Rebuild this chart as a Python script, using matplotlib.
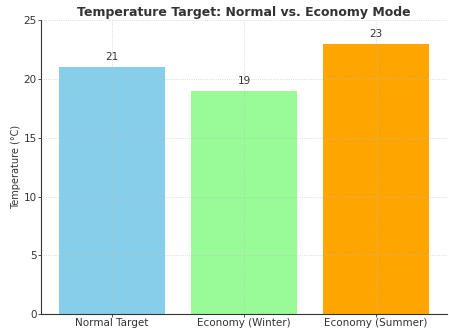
import matplotlib
matplotlib.use("Agg")
import matplotlib.pyplot as plt

categories = ["Normal Target", "Economy (Winter)", "Economy (Summer)"]
values = [21, 19, 23]
colors = ["skyblue", "palegreen", "orange"]
yticks = [0, 5, 10, 15, 20, 25]

plt.rcParams['font.family'] = ['DejaVu Sans']
txt = "#333333"
fig = plt.figure(figsize=(4.49, 3.30), dpi=100)
ax = fig.add_axes([0.091, 0.048, 0.905, 0.891])
bars = ax.bar(categories, values, color=colors, width=0.8)
for b, v in zip(bars, values):
    ax.text(b.get_x() + b.get_width() / 2, v + 0.4, str(v), ha="center", va="bottom",
            fontsize=7.5, color=txt)
ax.set_ylim(0, 25)
ax.set_yticks(yticks)
ax.set_title("Temperature Target: Normal vs. Economy Mode", fontsize=9,
             fontweight="bold", color=txt, pad=3)
ax.set_ylabel("Temperature (°C)", fontsize=7, color=txt, labelpad=2)
ax.tick_params(labelsize=7.5, colors=txt, length=2, width=0.6, pad=1)
ax.spines["top"].set_visible(False)
ax.spines["right"].set_visible(False)
for s in ("left", "bottom"):
    ax.spines[s].set_color(txt)
    ax.spines[s].set_linewidth(0.8)
ax.set_axisbelow(False)
ax.grid(True, linestyle=":", linewidth=0.6, color="#bbbbbb", alpha=0.7)
fig.savefig("out.png", dpi=100)
